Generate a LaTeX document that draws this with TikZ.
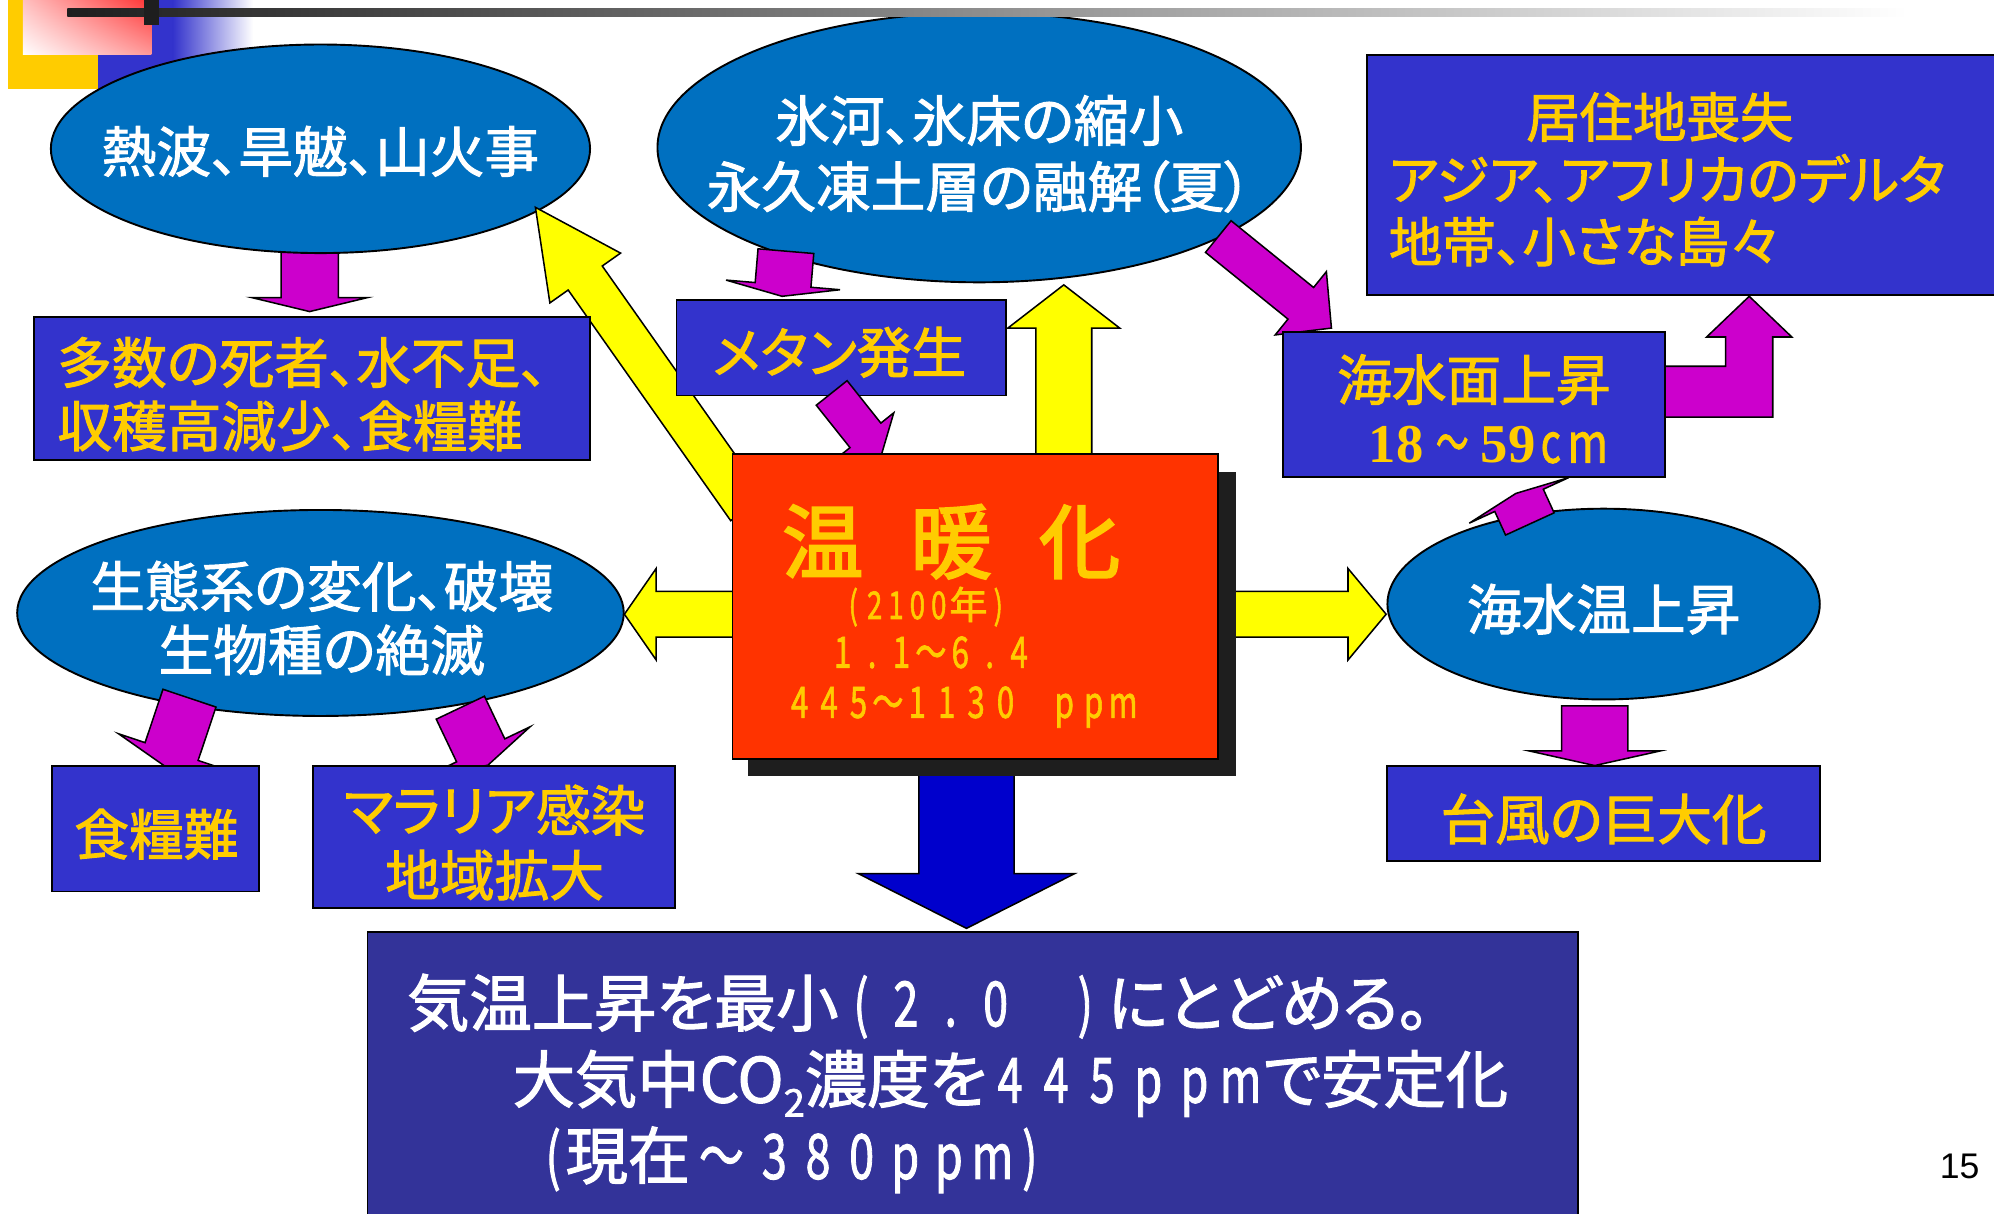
\documentclass[tikz,border=0pt]{standalone}
\usepackage{fontspec}
\usepackage{graphicx}
\usetikzlibrary{shapes.geometric,calc,shadings}
\setmainfont{Liberation Sans}
\newfontfamily\cjk[RawFeature=+palt,FakeBold=1.8]{Noto Sans CJK JP}
\newfontfamily\cjkt[RawFeature=+palt,FakeBold=2.5]{Noto Sans CJK JP}
\newfontfamily\tnr{Liberation Serif}
\newcommand\dg[2][0.7]{\makebox[#1em]{\scalebox{0.72}[1]{#2}}}
% block arrow: style, from, to, shaft half width, head half width, head length
\newcommand\blockarr[6]{%
  \path[#1] let \p1=($(#3)-(#2)$), \n1={atan2(\y1,\x1)}, \n2={veclen(\x1,\y1)} in
    [shift={(#2)}, rotate=\n1]
    (0pt,#4pt) -- ({\n2*1pt-#6pt},#4pt) -- ({\n2*1pt-#6pt},#5pt) -- ({\n2*1pt},0pt)
    -- ({\n2*1pt-#6pt},-#5pt) -- ({\n2*1pt-#6pt},-#4pt) -- (0pt,-#4pt) -- cycle;}
\definecolor{ellblue}{HTML}{0070C0}
\definecolor{boxblue}{HTML}{3333CC}
\definecolor{txtyel}{HTML}{FFCC00}
\definecolor{redbox}{HTML}{FF3300}
\definecolor{shadowc}{HTML}{1E1E1E}
\definecolor{botblue}{HTML}{333399}
\definecolor{mag}{HTML}{CC00CC}
\definecolor{arryel}{HTML}{FFFF00}
\definecolor{arrblue}{HTML}{0000CC}
\definecolor{decoyel}{HTML}{FFCC00}
\definecolor{decoblue}{HTML}{3333CC}
\definecolor{decored}{HTML}{FF3333}
\tikzset{
  ell/.style={ellipse, draw=black, line width=1.5pt, fill=ellblue, inner sep=0pt},
  bbox/.style={rectangle, draw=black, line width=1.5pt, fill=boxblue, inner sep=0pt},
  wtxt/.style={text=white, font=\cjk\fontsize{43pt}{50pt}\selectfont, align=center, inner sep=0pt},
  ytxt/.style={text=txtyel, font=\cjk\fontsize{43pt}{50pt}\selectfont, align=center, inner sep=0pt},
  yarr/.style={fill=arryel, draw=black, line width=1.2pt},
  marr/.style={fill=mag, draw=black, line width=1.2pt},
  barr/.style={fill=arrblue, draw=black, line width=1.2pt},
}
\begin{document}
\begin{tikzpicture}[x=1pt,y=-1pt]
\useasboundingbox (0,0) rectangle (1568,954);
\clip (0,0) rectangle (1568,954);
% --- top-left decoration
\fill[decoyel] (6,0) rectangle (77,70);
\fill[decoblue] (77,0) rectangle (136,70);
\shade[left color=decoblue, right color=white] (136,0) rectangle (199,70);
\shade[upper left=red!25, upper right=decored, lower left=white, lower right=red!40] (18,0) rectangle (119,43);

% --- ellipse A and its arrow
\coordinate (m1s) at (243.5,190); \coordinate (m1e) at (243.5,245);
\blockarr{marr}{m1s}{m1e}{22.5}{45.5}{11}
\node[ell, minimum width=424pt, minimum height=164pt] (A) at (252,117) {};
\node[wtxt] (tA) at (252,119) {熱波、旱魃、山火事};

% --- yellow arrow to A
\coordinate (y1s) at (588,400); \coordinate (y1e) at (421,163);
\blockarr{yarr}{y1s}{y1e}{16.4}{34}{68}

% --- box D
\node[bbox, minimum width=437pt, minimum height=113pt] (D) at (245.5,305.5) {};
\node[ytxt, align=left, anchor=west] (tD) at (45,310) {多数の死者、水不足、\\収穫高減少、食糧難};

% --- ellipse B
\node[ell, minimum width=506pt, minimum height=212pt] (B) at (770,116) {};
\node[wtxt, font=\cjk\fontsize{43pt}{52pt}\selectfont] (tB) at (770,121) {氷河、氷床の縮小\\永久凍土層の融解（夏）};

% --- box C
\node[bbox, minimum width=505pt, minimum height=189pt] (C) at (1327.5,137.5) {};
\node[ytxt, align=left, anchor=west, font=\cjk\fontsize{42pt}{49pt}\selectfont] (tC) at (1092,141)
  {\hspace*{108pt}居住地喪失\\アジア、アフリカのデルタ\\地帯、小さな島々};

% --- box E and arrows
\node[bbox, minimum width=259pt, minimum height=75pt] (E) at (661.5,273.5) {};
\node[ytxt] (tE) at (660,277) {メタン発生};
\coordinate (m4s) at (618,197.5); \coordinate (m4e) at (615,233);
\blockarr{marr}{m4s}{m4e}{22}{45}{9}
\coordinate (m5s) at (654,309); \coordinate (m5e) at (693,358);
\blockarr{marr}{m5s}{m5e}{15.5}{28.5}{20}

% --- yellow and blue arrows from center
\coordinate (y2s) at (836.5,390); \coordinate (y2e) at (836.5,224);
\blockarr{yarr}{y2s}{y2e}{22}{44}{34}
\coordinate (y3s) at (600,483); \coordinate (y3e) at (491,483);
\blockarr{yarr}{y3s}{y3e}{18}{36}{25}
\coordinate (y4s) at (960,483); \coordinate (y4e) at (1090,483);
\blockarr{yarr}{y4s}{y4e}{18}{36}{30}
\coordinate (bls) at (760,600); \coordinate (ble) at (760,730);
\blockarr{barr}{bls}{ble}{37.5}{85}{43}

% --- central box
\fill[shadowc] (588,371) rectangle (972,610);
\node[rectangle, draw=black, line width=1.5pt, fill=redbox, minimum width=382pt, minimum height=240pt, inner sep=0pt] (G) at (767,477) {};
\node[text=txtyel, font=\cjkt\fontsize{64pt}{64pt}\selectfont, inner sep=0pt] (tG1) at (748,426) {温\hspace{37pt}暖\hspace{37pt}化};
\node[text=txtyel, font=\cjk\fontsize{30pt}{30pt}\selectfont, inner sep=0pt] (tG2) at (728,477)
  {\dg[0.56]{(}\dg[0.56]{2}\dg[0.56]{1}\dg[0.56]{0}\dg[0.56]{0}年\dg[0.56]{)}};
\node[text=txtyel, font=\cjk\fontsize{34pt}{34pt}\selectfont, inner sep=0pt] (tG3) at (732,513)
  {\dg[0.68]{1}\dg[0.68]{.}\dg[0.68]{1}\dg[0.68]{～}\dg[0.68]{6}\dg[0.68]{.}\dg[0.68]{4}};
\node[text=txtyel, font=\cjk\fontsize{34pt}{34pt}\selectfont, inner sep=0pt] (tG4) at (756,556)
  {\dg[0.68]{4}\dg[0.68]{4}\dg[0.68]{5}\dg[0.68]{～}\dg[0.68]{1}\dg[0.68]{1}\dg[0.68]{3}\dg[0.68]{0}\dg[0.68]{ }\dg[0.68]{p}\dg[0.68]{p}\dg[0.68]{m}};

% --- arrows into box F, box F
\coordinate (m6s) at (958,186); \coordinate (m6e) at (1047,258);
\blockarr{marr}{m6s}{m6e}{16}{32}{31}
\coordinate (m8e) at (1375.5,233);
\draw[marr] (1300,288) -- (1357,288) -- (1357,265) -- (1342,265) -- (m8e) -- (1409,265)
  -- (1394,265) -- (1394,328) -- (1300,328) -- cycle;
\node[bbox, minimum width=300pt, minimum height=114pt] (F) at (1159,318) {};
\node[ytxt, font=\cjk\fontsize{43pt}{49pt}\selectfont] (tF) at (1159,321.5)
  {海水面上昇\\\hspace*{24pt}{\tnr\bfseries 18}\makebox[45pt]{\scalebox{0.6}[1]{～}}{\tnr\bfseries 59}\makebox[24pt]{\scalebox{0.72}[1]{c}}\makebox[34pt]{\scalebox{0.8}[1]{m}}};

% --- ellipse L, box M
\node[ell, minimum width=340pt, minimum height=150pt] (L) at (1261,475) {};
\node[wtxt] (tL) at (1261,479) {海水温上昇};
\coordinate (m7s) at (1203,412); \coordinate (m7e) at (1192,388);
\blockarr{marr}{m7s}{m7e}{21}{43}{6}
\coordinate (m9s) at (1254,555); \coordinate (m9e) at (1254,602);
\blockarr{marr}{m9s}{m9e}{26}{51.5}{11.5}
\node[bbox, minimum width=340pt, minimum height=75pt] (M) at (1261,639.5) {};
\node[ytxt] (tM) at (1261,644) {台風の巨大化};

% --- ellipse K, boxes I and J
\node[ell, minimum width=477pt, minimum height=162pt] (K) at (252,482) {};
\node[wtxt] (tK) at (253,486) {生態系の変化、破壊\\生物種の絶滅};
\coordinate (m2s) at (149,549); \coordinate (m2e) at (130.8,603.3);
\blockarr{marr}{m2s}{m2e}{22}{44}{13}
\coordinate (m3s) at (362,556.5); \coordinate (m3e) at (383.6,601.8);
\blockarr{marr}{m3s}{m3e}{21}{43}{13}
\node[bbox, minimum width=163pt, minimum height=99pt] (I) at (122.5,651.5) {};
\node[ytxt] (tI) at (123,656) {食糧難};
\node[bbox, minimum width=285pt, minimum height=112pt] (J) at (388.5,658) {};
\node[ytxt, font=\cjk\fontsize{43pt}{51pt}\selectfont] (tJ) at (389,662.5) {マラリア感染\\地域拡大};

% --- bottom box H
\node[rectangle, draw=black, line width=1.5pt, fill=botblue, minimum width=952pt, minimum height=240pt, inner sep=0pt] (H) at (765,853) {};
\node[text=white, font=\cjk\fontsize{49pt}{60pt}\selectfont, align=left, anchor=west, inner sep=0pt] (tH) at (320,852)
  {気温上昇を最小\dg[0.72]{(}\dg[0.72]{2}\dg[0.72]{.}\dg[0.72]{0}\hspace{0.72em}\dg[0.72]{)}にとどめる。\\
   \hspace*{83pt}大気中CO\raisebox{-11pt}{\fontsize{30pt}{30pt}\selectfont 2}濃度を\dg[0.74]{4}\dg[0.74]{4}\dg[0.74]{5}\dg[0.74]{p}\dg[0.74]{p}\dg[0.74]{m}で安定化\\
   \hspace*{105pt}\dg[0.4]{(}現在\dg[1.0]{～}\dg{3}\dg{8}\dg{0}\dg{p}\dg{p}\dg{m}\dg[0.5]{)}};

% --- top line decoration
\shade[left color=shadowc, right color=white] (53,7) rectangle (1500,13);
\fill[shadowc] (113,0) rectangle (125,20);

% --- page number
\node[font=\fontsize{28pt}{28pt}\selectfont, inner sep=0pt] (pg) at (1541,917) {15};
\end{tikzpicture}
\end{document}
